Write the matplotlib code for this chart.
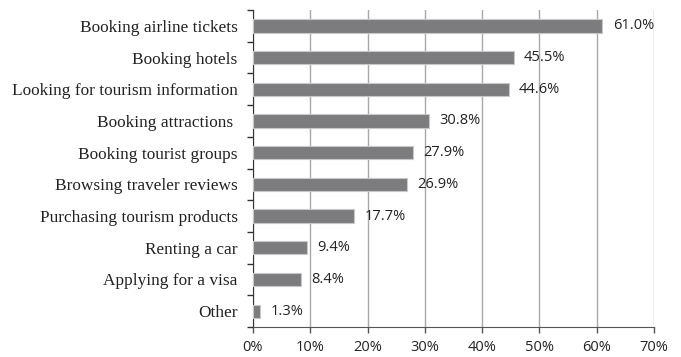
import numpy as np
import matplotlib.pyplot as plt
from matplotlib.ticker import FixedLocator

categories = [
    "Booking airline tickets",
    "Booking hotels",
    "Looking for tourism information",
    "Booking attractions ",
    "Booking tourist groups",
    "Browsing traveler reviews",
    "Purchasing tourism products",
    "Renting a car",
    "Applying for a visa",
    "Other",
]
values = [61.0, 45.5, 44.6, 30.8, 27.9, 26.9, 17.7, 9.4, 8.4, 1.3]
xticks = [0, 10, 20, 30, 40, 50, 60, 70]

fig = plt.figure(figsize=(6.81, 3.57), dpi=100)
ax = fig.add_axes([0.3715, 0.084, 0.5889, 0.888])

y = np.arange(len(categories))[::-1]
ax.barh(y, values, height=0.42, color="#7c7c7e", edgecolor="#c8c8c8",
        linewidth=0.8, zorder=3)

for yi, v in zip(y, values):
    ax.text(v + 1.8, yi, f"{v:.1f}%", va="center", ha="left",
            fontsize=10.5, family="Open Sans", color="#222222", zorder=4)

ax.set_xlim(0, 70)
ax.set_ylim(-0.5, len(categories) - 0.5)
ax.set_xticks(xticks)
ax.set_xticklabels([f"{t}%" for t in xticks], family="Open Sans", fontsize=10.5,
                   color="#222222")
ax.set_yticks(y)
ax.set_yticklabels(categories, family="Liberation Serif", fontsize=12.4,
                   color="#222222")
ax.tick_params(axis="y", which="major", length=0, pad=11)
ax.yaxis.set_minor_locator(FixedLocator(np.arange(-0.5, len(categories), 1.0)))
ax.tick_params(axis="y", which="minor", length=4, width=1, color="#333333")
ax.tick_params(axis="x", length=4, width=1, color="#555555", pad=5)

ax.grid(axis="x", color="#a8a8a8", linewidth=1, zorder=0)
for s in ["top", "right"]:
    ax.spines[s].set_visible(False)
ax.spines["left"].set_color("#333333")
ax.spines["bottom"].set_color("#555555")

fig.savefig("out.png", dpi=100)
